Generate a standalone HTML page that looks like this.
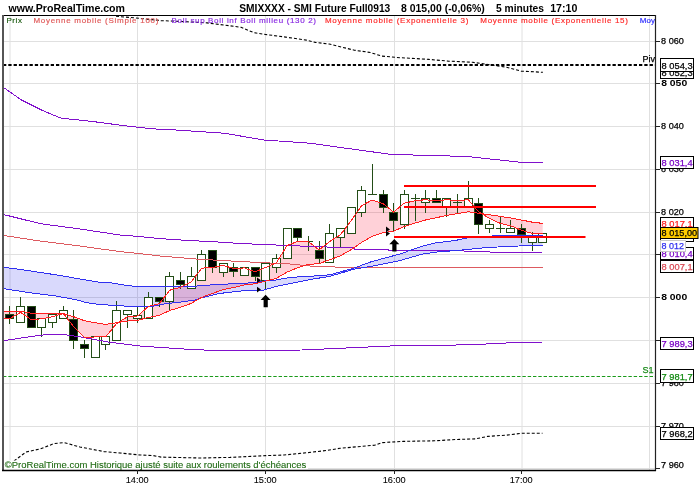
<!DOCTYPE html>
<html><head><meta charset="utf-8"><style>
html,body{margin:0;padding:0;background:#fff;width:700px;height:500px;overflow:hidden}
svg{display:block}
text{font-family:"Liberation Sans",sans-serif}
</style></head><body>
<svg width="700" height="500" viewBox="0 0 700 500">
<defs><clipPath id="cl"><rect x="3" y="15" width="652" height="455"/></clipPath></defs>
<rect width="700" height="500" fill="#fff"/>
<g style="will-change:transform">
<g clip-path="url(#cl)">
<line x1="4" y1="468.5" x2="655" y2="468.5" stroke="#e0e0e0" stroke-width="1"/>
<line x1="4" y1="426.5" x2="655" y2="426.5" stroke="#e0e0e0" stroke-width="1"/>
<line x1="4" y1="383.5" x2="655" y2="383.5" stroke="#e0e0e0" stroke-width="1"/>
<line x1="4" y1="340.5" x2="655" y2="340.5" stroke="#e0e0e0" stroke-width="1"/>
<line x1="4" y1="297.5" x2="655" y2="297.5" stroke="#e0e0e0" stroke-width="1"/>
<line x1="4" y1="254.5" x2="655" y2="254.5" stroke="#e0e0e0" stroke-width="1"/>
<line x1="4" y1="212.5" x2="655" y2="212.5" stroke="#e0e0e0" stroke-width="1"/>
<line x1="4" y1="169.5" x2="655" y2="169.5" stroke="#e0e0e0" stroke-width="1"/>
<line x1="4" y1="126.5" x2="655" y2="126.5" stroke="#e0e0e0" stroke-width="1"/>
<line x1="4" y1="83.5" x2="655" y2="83.5" stroke="#e0e0e0" stroke-width="1"/>
<line x1="4" y1="41.5" x2="655" y2="41.5" stroke="#e0e0e0" stroke-width="1"/>
<line x1="10.00" y1="16" x2="10.00" y2="470" stroke="#e0e0e0" stroke-width="1"/>
<line x1="137.50" y1="16" x2="137.50" y2="470" stroke="#e0e0e0" stroke-width="1"/>
<line x1="265.50" y1="16" x2="265.50" y2="470" stroke="#e0e0e0" stroke-width="1"/>
<line x1="394.50" y1="16" x2="394.50" y2="470" stroke="#e0e0e0" stroke-width="1"/>
<line x1="522.00" y1="16" x2="522.00" y2="470" stroke="#e0e0e0" stroke-width="1"/>
<line x1="649.50" y1="16" x2="649.50" y2="470" stroke="#e0e0e0" stroke-width="1"/>
<polygon points="3.0,318.0 10.0,318.4 20.7,312.4 31.3,319.7 42.0,318.8 52.6,316.7 63.3,313.5 73.9,326.9 84.6,337.7 95.2,336.9 105.9,336.6 116.5,323.6 127.2,317.0 137.8,315.9 148.5,306.4 159.2,303.8 169.8,290.2 180.5,287.3 191.1,281.9 201.8,268.1 212.4,267.6 223.1,265.3 233.7,268.6 244.4,267.9 255.0,271.9 265.7,267.4 276.4,262.8 287.0,245.6 297.7,241.3 308.3,241.5 319.0,249.9 329.6,241.5 340.3,234.9 350.9,221.0 361.6,205.7 372.2,200.0 382.9,203.5 393.5,212.0 404.2,203.2 414.9,200.8 425.5,199.7 436.2,201.0 446.8,199.6 457.5,200.9 468.1,199.6 478.8,212.0 489.4,218.2 500.1,223.3 510.7,225.8 521.4,230.2 532.0,233.4 542.7,233.2 542.7,223.4 532.0,222.1 521.4,220.0 510.7,217.9 500.1,216.4 489.4,214.7 478.8,213.3 468.1,211.8 457.5,213.7 446.8,215.3 436.2,217.8 425.5,220.0 414.9,223.1 404.2,226.6 393.5,231.2 382.9,232.7 372.2,236.4 361.6,242.4 350.9,249.8 340.3,255.9 329.6,259.8 319.0,263.7 308.3,264.4 297.7,267.7 287.0,272.1 276.4,278.3 265.7,281.2 255.0,283.8 244.4,284.9 233.7,287.5 223.1,289.7 212.4,293.5 201.8,297.3 191.1,303.4 180.5,307.3 169.8,310.5 159.2,315.4 148.5,317.4 137.8,320.3 127.2,321.1 116.5,322.7 105.9,324.4 95.2,322.7 84.6,320.8 73.9,316.8 63.3,313.5 52.6,313.9 42.0,313.8 31.3,313.2 20.7,311.3 10.0,312.0 3.0,311.0" fill="#ff0028" fill-opacity="0.18"/>
<polygon points="3.0,267.1 28.6,270.7 57.1,275.0 85.7,280.0 100.0,282.4 109.3,282.6 123.6,285.0 135.0,286.4 152.1,286.4 166.4,286.9 195.0,286.2 218.6,284.3 240.0,283.6 255.7,282.4 265.7,280.7 275.7,280.0 290.0,277.4 312.9,276.1 330.0,274.8 354.3,268.0 371.4,261.7 400.0,254.0 421.4,246.4 435.7,242.9 455.7,240.4 471.4,237.0 506.0,235.3 542.5,235.3 542.5,245.2 518.6,246.0 487.2,247.5 463.6,249.9 435.7,252.1 421.4,254.3 400.0,260.6 371.4,266.3 354.3,269.1 330.0,276.3 312.9,279.1 290.0,283.7 275.7,286.4 264.3,290.0 247.1,290.4 232.9,291.9 218.6,293.6 204.3,297.1 195.0,300.0 180.7,302.1 166.4,303.6 152.1,306.4 137.9,306.4 123.6,306.0 100.0,304.5 85.7,302.6 78.6,300.3 57.1,296.2 28.6,292.6 3.0,288.5" fill="#0000eb" fill-opacity="0.15"/>
<line x1="9.5" y1="306" x2="9.5" y2="314" stroke="#234d17"/>
<line x1="9.5" y1="319" x2="9.5" y2="324" stroke="#234d17"/>
<rect x="5.5" y="314.5" width="8" height="4" fill="#000" stroke="#234d17"/>
<line x1="20.5" y1="297" x2="20.5" y2="306" stroke="#234d17"/>
<rect x="16.5" y="306.5" width="8" height="16" fill="#fff" stroke="#234d17"/>
<rect x="27.5" y="306.5" width="8" height="21" fill="#000" stroke="#234d17"/>
<line x1="41.5" y1="328" x2="41.5" y2="337" stroke="#234d17"/>
<rect x="37.5" y="318.5" width="8" height="9" fill="#fff" stroke="#234d17"/>
<line x1="52.5" y1="323" x2="52.5" y2="328" stroke="#234d17"/>
<rect x="48.5" y="314.5" width="8" height="8" fill="#fff" stroke="#234d17"/>
<line x1="63.5" y1="306" x2="63.5" y2="310" stroke="#234d17"/>
<rect x="59.5" y="310.5" width="8" height="8" fill="#fff" stroke="#234d17"/>
<line x1="73.5" y1="310" x2="73.5" y2="319" stroke="#234d17"/>
<line x1="73.5" y1="341" x2="73.5" y2="349" stroke="#234d17"/>
<rect x="69.5" y="319.5" width="8" height="21" fill="#000" stroke="#234d17"/>
<line x1="84.5" y1="340" x2="84.5" y2="344" stroke="#234d17"/>
<line x1="84.5" y1="349" x2="84.5" y2="358" stroke="#234d17"/>
<rect x="80.5" y="344.5" width="8" height="4" fill="#000" stroke="#234d17"/>
<rect x="91.5" y="336.5" width="8" height="21" fill="#fff" stroke="#234d17"/>
<line x1="105.5" y1="345" x2="105.5" y2="350" stroke="#234d17"/>
<rect x="101.5" y="336.5" width="8" height="8" fill="#fff" stroke="#234d17"/>
<line x1="116.5" y1="301" x2="116.5" y2="310" stroke="#234d17"/>
<rect x="112.5" y="310.5" width="8" height="30" fill="#fff" stroke="#234d17"/>
<line x1="127.5" y1="315" x2="127.5" y2="328" stroke="#234d17"/>
<rect x="123.5" y="310.5" width="8" height="4" fill="#fff" stroke="#234d17"/>
<line x1="137.5" y1="307" x2="137.5" y2="315" stroke="#234d17"/>
<line x1="137.5" y1="319" x2="137.5" y2="323" stroke="#234d17"/>
<rect x="133.5" y="315.5" width="8" height="3" fill="#fff" stroke="#234d17"/>
<line x1="148.5" y1="292" x2="148.5" y2="297" stroke="#234d17"/>
<rect x="144.5" y="297.5" width="8" height="21" fill="#fff" stroke="#234d17"/>
<line x1="159.5" y1="302" x2="159.5" y2="307" stroke="#234d17"/>
<rect x="155.5" y="297.5" width="8" height="4" fill="#000" stroke="#234d17"/>
<line x1="169.5" y1="272" x2="169.5" y2="276" stroke="#234d17"/>
<line x1="169.5" y1="302" x2="169.5" y2="310" stroke="#234d17"/>
<rect x="165.5" y="276.5" width="8" height="25" fill="#fff" stroke="#234d17"/>
<line x1="180.5" y1="272" x2="180.5" y2="280" stroke="#234d17"/>
<line x1="180.5" y1="285" x2="180.5" y2="289" stroke="#234d17"/>
<rect x="176.5" y="280.5" width="8" height="4" fill="#000" stroke="#234d17"/>
<line x1="191.5" y1="267" x2="191.5" y2="276" stroke="#234d17"/>
<rect x="187.5" y="276.5" width="8" height="12" fill="#fff" stroke="#234d17"/>
<line x1="201.5" y1="250" x2="201.5" y2="254" stroke="#234d17"/>
<rect x="197.5" y="254.5" width="8" height="26" fill="#fff" stroke="#234d17"/>
<line x1="212.5" y1="268" x2="212.5" y2="273" stroke="#234d17"/>
<rect x="208.5" y="250.5" width="8" height="17" fill="#000" stroke="#234d17"/>
<line x1="223.5" y1="273" x2="223.5" y2="277" stroke="#234d17"/>
<rect x="219.5" y="263.5" width="8" height="9" fill="#fff" stroke="#234d17"/>
<line x1="233.5" y1="263" x2="233.5" y2="267" stroke="#234d17"/>
<line x1="233.5" y1="272" x2="233.5" y2="277" stroke="#234d17"/>
<rect x="229.5" y="267.5" width="8" height="4" fill="#000" stroke="#234d17"/>
<rect x="240.5" y="267.5" width="8" height="8" fill="#fff" stroke="#234d17"/>
<line x1="255.5" y1="277" x2="255.5" y2="281" stroke="#234d17"/>
<rect x="251.5" y="267.5" width="8" height="9" fill="#000" stroke="#234d17"/>
<line x1="265.5" y1="281" x2="265.5" y2="289" stroke="#234d17"/>
<rect x="261.5" y="263.5" width="8" height="17" fill="#fff" stroke="#234d17"/>
<line x1="276.5" y1="254" x2="276.5" y2="258" stroke="#234d17"/>
<line x1="276.5" y1="268" x2="276.5" y2="273" stroke="#234d17"/>
<rect x="272.5" y="258.5" width="8" height="9" fill="#fff" stroke="#234d17"/>
<rect x="283.5" y="228.5" width="8" height="30" fill="#fff" stroke="#234d17"/>
<line x1="297.5" y1="238" x2="297.5" y2="242" stroke="#234d17"/>
<rect x="293.5" y="228.5" width="8" height="9" fill="#000" stroke="#234d17"/>
<line x1="308.5" y1="236" x2="308.5" y2="241" stroke="#234d17"/>
<line x1="308.5" y1="242" x2="308.5" y2="251" stroke="#234d17"/>
<line x1="304" y1="241.5" x2="313" y2="241.5" stroke="#234d17"/>
<line x1="319.5" y1="241" x2="319.5" y2="250" stroke="#234d17"/>
<line x1="319.5" y1="259" x2="319.5" y2="263" stroke="#234d17"/>
<rect x="315.5" y="250.5" width="8" height="8" fill="#000" stroke="#234d17"/>
<line x1="329.5" y1="224" x2="329.5" y2="233" stroke="#234d17"/>
<rect x="325.5" y="233.5" width="8" height="29" fill="#fff" stroke="#234d17"/>
<line x1="340.5" y1="238" x2="340.5" y2="247" stroke="#234d17"/>
<rect x="336.5" y="228.5" width="8" height="9" fill="#fff" stroke="#234d17"/>
<rect x="347.5" y="207.5" width="8" height="26" fill="#fff" stroke="#234d17"/>
<line x1="361.5" y1="186" x2="361.5" y2="190" stroke="#234d17"/>
<line x1="361.5" y1="213" x2="361.5" y2="217" stroke="#234d17"/>
<rect x="357.5" y="190.5" width="8" height="22" fill="#fff" stroke="#234d17"/>
<line x1="372.5" y1="164" x2="372.5" y2="194" stroke="#234d17"/>
<line x1="368" y1="194.5" x2="377" y2="194.5" stroke="#234d17"/>
<line x1="383.5" y1="190" x2="383.5" y2="194" stroke="#234d17"/>
<line x1="383.5" y1="208" x2="383.5" y2="213" stroke="#234d17"/>
<rect x="379.5" y="194.5" width="8" height="13" fill="#000" stroke="#234d17"/>
<line x1="393.5" y1="203" x2="393.5" y2="212" stroke="#234d17"/>
<line x1="393.5" y1="221" x2="393.5" y2="232" stroke="#234d17"/>
<rect x="389.5" y="212.5" width="8" height="8" fill="#000" stroke="#234d17"/>
<line x1="404.5" y1="190" x2="404.5" y2="194" stroke="#234d17"/>
<line x1="404.5" y1="225" x2="404.5" y2="229" stroke="#234d17"/>
<rect x="400.5" y="194.5" width="8" height="30" fill="#fff" stroke="#234d17"/>
<line x1="415.5" y1="194" x2="415.5" y2="198" stroke="#234d17"/>
<line x1="415.5" y1="199" x2="415.5" y2="221" stroke="#234d17"/>
<line x1="411" y1="198.5" x2="420" y2="198.5" stroke="#234d17"/>
<line x1="425.5" y1="190" x2="425.5" y2="198" stroke="#234d17"/>
<line x1="425.5" y1="203" x2="425.5" y2="213" stroke="#234d17"/>
<rect x="421.5" y="198.5" width="8" height="4" fill="#fff" stroke="#234d17"/>
<line x1="436.5" y1="190" x2="436.5" y2="198" stroke="#234d17"/>
<rect x="432.5" y="198.5" width="8" height="4" fill="#000" stroke="#234d17"/>
<line x1="446.5" y1="207" x2="446.5" y2="217" stroke="#234d17"/>
<rect x="442.5" y="198.5" width="8" height="8" fill="#fff" stroke="#234d17"/>
<line x1="457.5" y1="194" x2="457.5" y2="202" stroke="#234d17"/>
<line x1="457.5" y1="203" x2="457.5" y2="213" stroke="#234d17"/>
<line x1="453" y1="202.5" x2="462" y2="202.5" stroke="#234d17"/>
<line x1="468.5" y1="181" x2="468.5" y2="198" stroke="#234d17"/>
<rect x="464.5" y="198.5" width="8" height="8" fill="#fff" stroke="#234d17"/>
<line x1="478.5" y1="198" x2="478.5" y2="203" stroke="#234d17"/>
<line x1="478.5" y1="225" x2="478.5" y2="234" stroke="#234d17"/>
<rect x="474.5" y="203.5" width="8" height="21" fill="#000" stroke="#234d17"/>
<line x1="489.5" y1="220" x2="489.5" y2="224" stroke="#234d17"/>
<line x1="489.5" y1="229" x2="489.5" y2="233" stroke="#234d17"/>
<rect x="485.5" y="224.5" width="8" height="4" fill="#fff" stroke="#234d17"/>
<line x1="500.5" y1="216" x2="500.5" y2="228" stroke="#234d17"/>
<line x1="500.5" y1="229" x2="500.5" y2="233" stroke="#234d17"/>
<line x1="496" y1="228.5" x2="505" y2="228.5" stroke="#234d17"/>
<line x1="510.5" y1="220" x2="510.5" y2="228" stroke="#234d17"/>
<rect x="506.5" y="228.5" width="8" height="4" fill="#fff" stroke="#234d17"/>
<line x1="521.5" y1="224" x2="521.5" y2="228" stroke="#234d17"/>
<line x1="521.5" y1="235" x2="521.5" y2="243" stroke="#234d17"/>
<rect x="517.5" y="228.5" width="8" height="6" fill="#000" stroke="#234d17"/>
<line x1="532.5" y1="232" x2="532.5" y2="237" stroke="#234d17"/>
<line x1="532.5" y1="243" x2="532.5" y2="251" stroke="#234d17"/>
<rect x="528.5" y="237.5" width="8" height="5" fill="#fff" stroke="#234d17"/>
<rect x="538.5" y="233.5" width="8" height="9" fill="#fff" stroke="#234d17"/>
<polyline points="3.0,87.1 21.4,100.0 42.9,110.7 61.4,118.3 78.6,120.0 100.0,122.4 120.0,125.2 152.0,128.8 176.0,130.0 224.0,133.2 264.0,140.0 310.0,143.2 350.0,148.8 394.0,154.8 430.0,155.2 470.0,156.8 518.0,162.0 542.5,162.8" fill="none" stroke="#8010cc" stroke-width="1" shape-rendering="crispEdges"/>
<polyline points="3.0,340.8 40.0,335.2 60.0,334.0 80.0,336.8 108.0,342.0 140.0,346.0 180.0,348.8 220.0,350.8 302.0,350.0 346.0,348.0 390.0,346.0 470.0,344.8 510.0,342.8 542.5,342.0" fill="none" stroke="#8010cc" stroke-width="1" shape-rendering="crispEdges"/>
<polyline points="3.0,214.4 40.0,223.6 80.0,229.0 120.0,235.0 140.0,236.6 160.0,238.6 185.0,240.3 215.0,241.8 240.0,243.5 300.0,246.0 354.0,248.0 355.0,249.4 388.0,249.4 389.0,250.5 440.0,250.2 463.6,251.0 495.0,252.2 542.5,252.7" fill="none" stroke="#8010cc" stroke-width="1" shape-rendering="crispEdges"/>
<polyline points="3.0,235.4 40.0,241.0 80.0,246.0 120.0,251.6 140.0,253.6 160.0,256.0 200.0,259.3 240.0,261.5 290.0,264.0 312.9,266.3 335.0,267.0 542.5,267.0" fill="none" stroke="#dd5a60" stroke-width="1" shape-rendering="crispEdges"/>
<polyline points="3.0,267.1 28.6,270.7 57.1,275.0 85.7,280.0 100.0,282.4 109.3,282.6 123.6,285.0 135.0,286.4 152.1,286.4 166.4,286.9 195.0,286.2 218.6,284.3 240.0,283.6 255.7,282.4 265.7,280.7 275.7,280.0 290.0,277.4 312.9,276.1 330.0,274.8 354.3,268.0 371.4,261.7 400.0,254.0 421.4,246.4 435.7,242.9 455.7,240.4 471.4,237.0 506.0,235.3 542.5,235.3" fill="none" stroke="#3030f0" stroke-width="1" shape-rendering="crispEdges"/>
<polyline points="3.0,288.5 28.6,292.6 57.1,296.2 78.6,300.3 85.7,302.6 100.0,304.5 123.6,306.0 137.9,306.4 152.1,306.4 166.4,303.6 180.7,302.1 195.0,300.0 204.3,297.1 218.6,293.6 232.9,291.9 247.1,290.4 264.3,290.0 275.7,286.4 290.0,283.7 312.9,279.1 330.0,276.3 354.3,269.1 371.4,266.3 400.0,260.6 421.4,254.3 435.7,252.1 463.6,249.9 487.2,247.5 518.6,246.0 542.5,245.2" fill="none" stroke="#3030f0" stroke-width="1" shape-rendering="crispEdges"/>
<polyline points="3.0,311.0 10.0,312.0 20.7,311.3 31.3,313.2 42.0,313.8 52.6,313.9 63.3,313.5 73.9,316.8 84.6,320.8 95.2,322.7 105.9,324.4 116.5,322.7 127.2,321.1 137.8,320.3 148.5,317.4 159.2,315.4 169.8,310.5 180.5,307.3 191.1,303.4 201.8,297.3 212.4,293.5 223.1,289.7 233.7,287.5 244.4,284.9 255.0,283.8 265.7,281.2 276.4,278.3 287.0,272.1 297.7,267.7 308.3,264.4 319.0,263.7 329.6,259.8 340.3,255.9 350.9,249.8 361.6,242.4 372.2,236.4 382.9,232.7 393.5,231.2 404.2,226.6 414.9,223.1 425.5,220.0 436.2,217.8 446.8,215.3 457.5,213.7 468.1,211.8 478.8,213.3 489.4,214.7 500.1,216.4 510.7,217.9 521.4,220.0 532.0,222.1 542.7,223.4" fill="none" stroke="#ff2020" stroke-width="1" shape-rendering="crispEdges"/>
<polyline points="3.0,318.0 10.0,318.4 20.7,312.4 31.3,319.7 42.0,318.8 52.6,316.7 63.3,313.5 73.9,326.9 84.6,337.7 95.2,336.9 105.9,336.6 116.5,323.6 127.2,317.0 137.8,315.9 148.5,306.4 159.2,303.8 169.8,290.2 180.5,287.3 191.1,281.9 201.8,268.1 212.4,267.6 223.1,265.3 233.7,268.6 244.4,267.9 255.0,271.9 265.7,267.4 276.4,262.8 287.0,245.6 297.7,241.3 308.3,241.5 319.0,249.9 329.6,241.5 340.3,234.9 350.9,221.0 361.6,205.7 372.2,200.0 382.9,203.5 393.5,212.0 404.2,203.2 414.9,200.8 425.5,199.7 436.2,201.0 446.8,199.6 457.5,200.9 468.1,199.6 478.8,212.0 489.4,218.2 500.1,223.3 510.7,225.8 521.4,230.2 532.0,233.4 542.7,233.2" fill="none" stroke="#ff2020" stroke-width="1" shape-rendering="crispEdges"/>
<polyline points="116.0,16.3 133.4,17.7 160.9,20.6 186.6,21.7 207.0,22.9 224.0,25.0 241.1,27.3 253.7,32.6 265.1,34.4 285.7,37.1 306.3,40.1 315.4,42.4 329.1,44.0 342.9,47.4 354.3,50.2 370.3,52.5 381.7,56.1 400.0,57.7 409.4,58.2 428.8,59.4 448.3,61.1 472.5,62.3 491.9,65.0 506.5,67.2 521.1,71.1 542.9,72.3" fill="none" stroke="#000" stroke-width="1.1" stroke-dasharray="3 2"/>
<polyline points="14.0,461.0 26.0,452.0 40.0,449.0 54.0,443.6 64.0,442.6 80.0,447.0 104.0,451.6 120.0,453.0 140.0,455.0 153.5,455.6 161.0,457.1 200.0,458.0 230.0,457.4 266.0,455.6 284.0,455.0 308.0,452.6 326.0,450.5 340.0,448.3 374.6,445.2 382.5,442.6 402.9,441.4 434.3,440.8 456.4,439.5 475.2,438.9 487.8,436.4 506.7,435.1 522.4,433.2 542.5,433.2" fill="none" stroke="#000" stroke-width="1.1" stroke-dasharray="3 2"/>
<line x1="3" y1="65" x2="655" y2="65" stroke="#000" stroke-width="2" stroke-dasharray="3.3 2"/>
<line x1="3" y1="376.5" x2="655" y2="376.5" stroke="#1a9a1a" stroke-width="1" stroke-dasharray="3.4 1.9"/>
<line x1="404" y1="186" x2="596" y2="186" stroke="#ff0000" stroke-width="2"/>
<line x1="404" y1="207" x2="596" y2="207" stroke="#ff0000" stroke-width="2"/>
<line x1="394" y1="237" x2="585.5" y2="237" stroke="#ff0000" stroke-width="2"/>
<polygon points="265.6,294.8 270.6,300.0 267.8,300.0 267.8,307.2 263.6,307.2 263.6,300.0 260.6,300.0" fill="#000"/>
<polygon points="394.3,239.0 399.3,244.2 396.5,244.2 396.5,251.4 392.3,251.4 392.3,244.2 389.3,244.2" fill="#000"/>
<polygon points="257,277.4 261,280.2 257,283.0" fill="#000"/>
<polygon points="257,286.8 261,289.6 257,292.40000000000003" fill="#000"/>
<polygon points="386,226.6 390,229.4 386,232.20000000000002" fill="#000"/>
<polygon points="386,230.79999999999998 390,233.6 386,236.4" fill="#000"/>
<text x="639.8" y="23.4" font-size="8" font-weight="normal" fill="#2a2aff" text-anchor="start" stroke="#2a2aff" stroke-width="0.18">Moyenne</text>
<rect x="4" y="460.5" width="304" height="9.5" fill="#fff"/><text x="4.8" y="468" font-size="9.6" font-weight="normal" fill="#1e6a12" text-anchor="start" textLength="301.5" lengthAdjust="spacingAndGlyphs" stroke="#1e6a12" stroke-width="0.1">©ProRealTime.com  Historique ajusté suite aux roulements d'échéances</text>
</g>
<text x="8.5" y="11.7" font-size="10.6" font-weight="bold" fill="#000" text-anchor="start" textLength="116.5" lengthAdjust="spacingAndGlyphs">www.ProRealTime.com</text><text x="239.3" y="11.7" font-size="10.6" font-weight="bold" fill="#000" text-anchor="start" textLength="151" lengthAdjust="spacingAndGlyphs">SMIXXXX - SMI Future Full0913</text><text x="401" y="11.7" font-size="10.6" font-weight="bold" fill="#000" text-anchor="start" textLength="83.8" lengthAdjust="spacingAndGlyphs">8 015,00 (-0,06%)</text><text x="496" y="11.7" font-size="10.6" font-weight="bold" fill="#000" text-anchor="start" textLength="48" lengthAdjust="spacingAndGlyphs">5 minutes</text><text x="550.2" y="11.7" font-size="10.6" font-weight="bold" fill="#000" text-anchor="start" textLength="27.2" lengthAdjust="spacingAndGlyphs">17:10</text><text x="6.4" y="23.4" font-size="8" font-weight="normal" fill="#1a5a10" text-anchor="start" textLength="15.5" lengthAdjust="spacing" stroke="#1a5a10" stroke-width="0.18">Prix</text><text x="33.4" y="23.4" font-size="8" font-weight="normal" fill="#e05a5a" text-anchor="start" textLength="125" lengthAdjust="spacing" stroke="#e05a5a" stroke-width="0.18">Moyenne mobile (Simple 100)</text><text x="171.6" y="23.4" font-size="8" font-weight="normal" fill="#8a2be2" text-anchor="start" textLength="144.3" lengthAdjust="spacing" stroke="#8a2be2" stroke-width="0.18">Boll sup Boll inf Boll milieu (130 2)</text><text x="324.9" y="23.4" font-size="8" font-weight="normal" fill="#ff2a2a" text-anchor="start" textLength="143.5" lengthAdjust="spacing" stroke="#ff2a2a" stroke-width="0.18">Moyenne mobile (Exponentielle 3)</text><text x="480.3" y="23.4" font-size="8" font-weight="normal" fill="#ff2a2a" text-anchor="start" textLength="147.6" lengthAdjust="spacing" stroke="#ff2a2a" stroke-width="0.18">Moyenne mobile (Exponentielle 15)</text>
<line x1="3" y1="15.5" x2="656" y2="15.5" stroke="#000" stroke-width="1.2"/>
<line x1="3" y1="15" x2="3" y2="471" stroke="#555" stroke-width="2"/>
<line x1="655.5" y1="15" x2="655.5" y2="471" stroke="#222" stroke-width="1.2"/>
<line x1="2" y1="470.5" x2="656" y2="470.5" stroke="#000" stroke-width="1.3"/>
<line x1="655" y1="468.5" x2="660" y2="468.5" stroke="#222"/><text x="661.1" y="468" font-size="9" font-weight="normal" fill="#000" text-anchor="start" textLength="22.8" lengthAdjust="spacingAndGlyphs" stroke="#000" stroke-width="0.25">7 960</text><line x1="655" y1="426.5" x2="660" y2="426.5" stroke="#222"/><text x="661.1" y="429.3" font-size="9" font-weight="normal" fill="#000" text-anchor="start" textLength="22.8" lengthAdjust="spacingAndGlyphs" stroke="#000" stroke-width="0.25">7 970</text><line x1="655" y1="383.5" x2="660" y2="383.5" stroke="#222"/><text x="661.1" y="386.3" font-size="9" font-weight="normal" fill="#000" text-anchor="start" textLength="22.8" lengthAdjust="spacingAndGlyphs" stroke="#000" stroke-width="0.25">7 980</text><line x1="655" y1="340.5" x2="660" y2="340.5" stroke="#222"/><text x="661.1" y="343.3" font-size="9" font-weight="normal" fill="#000" text-anchor="start" textLength="22.8" lengthAdjust="spacingAndGlyphs" stroke="#000" stroke-width="0.25">7 990</text><line x1="655" y1="297.5" x2="660" y2="297.5" stroke="#222"/><text x="661.2" y="300.3" font-size="9.2" font-weight="bold" fill="#000" text-anchor="start" textLength="26" lengthAdjust="spacingAndGlyphs">8 000</text><line x1="655" y1="254.5" x2="660" y2="254.5" stroke="#222"/><text x="661.1" y="257.3" font-size="9" font-weight="normal" fill="#000" text-anchor="start" textLength="22.8" lengthAdjust="spacingAndGlyphs" stroke="#000" stroke-width="0.25">8 010</text><line x1="655" y1="212.5" x2="660" y2="212.5" stroke="#222"/><text x="661.1" y="215.3" font-size="9" font-weight="normal" fill="#000" text-anchor="start" textLength="22.8" lengthAdjust="spacingAndGlyphs" stroke="#000" stroke-width="0.25">8 020</text><line x1="655" y1="169.5" x2="660" y2="169.5" stroke="#222"/><text x="661.1" y="172.3" font-size="9" font-weight="normal" fill="#000" text-anchor="start" textLength="22.8" lengthAdjust="spacingAndGlyphs" stroke="#000" stroke-width="0.25">8 030</text><line x1="655" y1="126.5" x2="660" y2="126.5" stroke="#222"/><text x="661.1" y="129.3" font-size="9" font-weight="normal" fill="#000" text-anchor="start" textLength="22.8" lengthAdjust="spacingAndGlyphs" stroke="#000" stroke-width="0.25">8 040</text><line x1="655" y1="83.5" x2="660" y2="83.5" stroke="#222"/><text x="661.2" y="86.3" font-size="9.2" font-weight="bold" fill="#000" text-anchor="start" textLength="26" lengthAdjust="spacingAndGlyphs">8 050</text><line x1="655" y1="41.5" x2="660" y2="41.5" stroke="#222"/><text x="661.1" y="44.3" font-size="9" font-weight="normal" fill="#000" text-anchor="start" textLength="22.8" lengthAdjust="spacingAndGlyphs" stroke="#000" stroke-width="0.25">8 060</text><line x1="137.5" y1="470" x2="137.5" y2="474" stroke="#222"/><text x="137.2" y="482.9" font-size="9.4" font-weight="normal" fill="#000" text-anchor="middle" textLength="23" lengthAdjust="spacingAndGlyphs" stroke="#000" stroke-width="0.1">14:00</text><line x1="265.5" y1="470" x2="265.5" y2="474" stroke="#222"/><text x="265.2" y="482.9" font-size="9.4" font-weight="normal" fill="#000" text-anchor="middle" textLength="23" lengthAdjust="spacingAndGlyphs" stroke="#000" stroke-width="0.1">15:00</text><line x1="394.5" y1="470" x2="394.5" y2="474" stroke="#222"/><text x="394.2" y="482.9" font-size="9.4" font-weight="normal" fill="#000" text-anchor="middle" textLength="23" lengthAdjust="spacingAndGlyphs" stroke="#000" stroke-width="0.1">16:00</text><line x1="521.5" y1="470" x2="521.5" y2="474" stroke="#222"/><text x="521.2" y="482.9" font-size="9.4" font-weight="normal" fill="#000" text-anchor="middle" textLength="23" lengthAdjust="spacingAndGlyphs" stroke="#000" stroke-width="0.1">17:00</text>
<rect x="660.5" y="65.5" width="33" height="13" fill="#fff" stroke="#000"/><text x="661.6" y="75.6" font-size="9.4" font-weight="normal" fill="#000" text-anchor="start" textLength="31" lengthAdjust="spacingAndGlyphs" stroke="#000" stroke-width="0.25">8 052,3</text><rect x="660.5" y="58.5" width="33" height="13" fill="#fff" stroke="#000"/><text x="661.6" y="68.6" font-size="9.4" font-weight="normal" fill="#000" text-anchor="start" textLength="31" lengthAdjust="spacingAndGlyphs" stroke="#000" stroke-width="0.25">8 054,3</text><rect x="660.5" y="156.5" width="33" height="12" fill="#fff" stroke="#000"/><text x="661.6" y="165.6" font-size="9.4" font-weight="normal" fill="#7800c4" text-anchor="start" textLength="31" lengthAdjust="spacingAndGlyphs" stroke="#7800c4" stroke-width="0.25">8 031,4</text><rect x="660.5" y="229.5" width="33" height="12" fill="#fff" stroke="#000"/><text x="661.6" y="238.6" font-size="9.4" font-weight="normal" fill="#000" text-anchor="start" textLength="31" lengthAdjust="spacingAndGlyphs" stroke="#000" stroke-width="0.25"></text><rect x="660.5" y="217.5" width="33" height="12" fill="#fff" stroke="#000"/><text x="661.6" y="226.6" font-size="9.4" font-weight="normal" fill="#ff2020" text-anchor="start" textLength="31" lengthAdjust="spacingAndGlyphs" stroke="#ff2020" stroke-width="0.25">8 017,1</text><rect x="660.5" y="247.5" width="33" height="12" fill="#fff" stroke="#000"/><text x="661.6" y="256.6" font-size="9.4" font-weight="normal" fill="#7800c4" text-anchor="start" textLength="31" lengthAdjust="spacingAndGlyphs" stroke="#7800c4" stroke-width="0.25">8 010,4</text><rect x="660.5" y="260.5" width="33" height="12" fill="#fff" stroke="#000"/><text x="661.6" y="269.6" font-size="9.4" font-weight="normal" fill="#d94a55" text-anchor="start" textLength="31" lengthAdjust="spacingAndGlyphs" stroke="#d94a55" stroke-width="0.25">8 007,1</text><rect x="660.5" y="240.5" width="25" height="11" fill="#fff" stroke="#c8c8c8"/><text x="661.6" y="248.6" font-size="9.4" font-weight="normal" fill="#3030f0" text-anchor="start" textLength="22.5" lengthAdjust="spacingAndGlyphs" stroke="#3030f0" stroke-width="0.25">8 012</text><rect x="660.5" y="227.5" width="37.5" height="11" fill="#ffcc00" stroke="#000"/><text x="661.6" y="235.6" font-size="9.4" font-weight="normal" fill="#000" text-anchor="start" textLength="35.5" lengthAdjust="spacingAndGlyphs" stroke="#000" stroke-width="0.25">8 015,00</text><rect x="660.5" y="337.5" width="33" height="12" fill="#fff" stroke="#000"/><text x="661.6" y="346.6" font-size="9.4" font-weight="normal" fill="#7800c4" text-anchor="start" textLength="31" lengthAdjust="spacingAndGlyphs" stroke="#7800c4" stroke-width="0.25">7 989,3</text><rect x="660.5" y="369.5" width="33" height="13" fill="#fff" stroke="#000"/><text x="661.6" y="379.6" font-size="9.4" font-weight="normal" fill="#128a12" text-anchor="start" textLength="31" lengthAdjust="spacingAndGlyphs" stroke="#128a12" stroke-width="0.25">7 981,7</text><rect x="660.5" y="427.5" width="33" height="12" fill="#fff" stroke="#000"/><text x="661.6" y="436.6" font-size="9.4" font-weight="normal" fill="#000" text-anchor="start" textLength="31" lengthAdjust="spacingAndGlyphs" stroke="#000" stroke-width="0.25">7 968,2</text>
<text x="655" y="62" font-size="9" font-weight="normal" fill="#000" text-anchor="end" stroke="#000" stroke-width="0.25">Piv</text><text x="653.5" y="373.2" font-size="9" font-weight="normal" fill="#1a8a1a" text-anchor="end" stroke="#1a8a1a" stroke-width="0.25">S1</text>
</g>
</svg>
</body></html>
